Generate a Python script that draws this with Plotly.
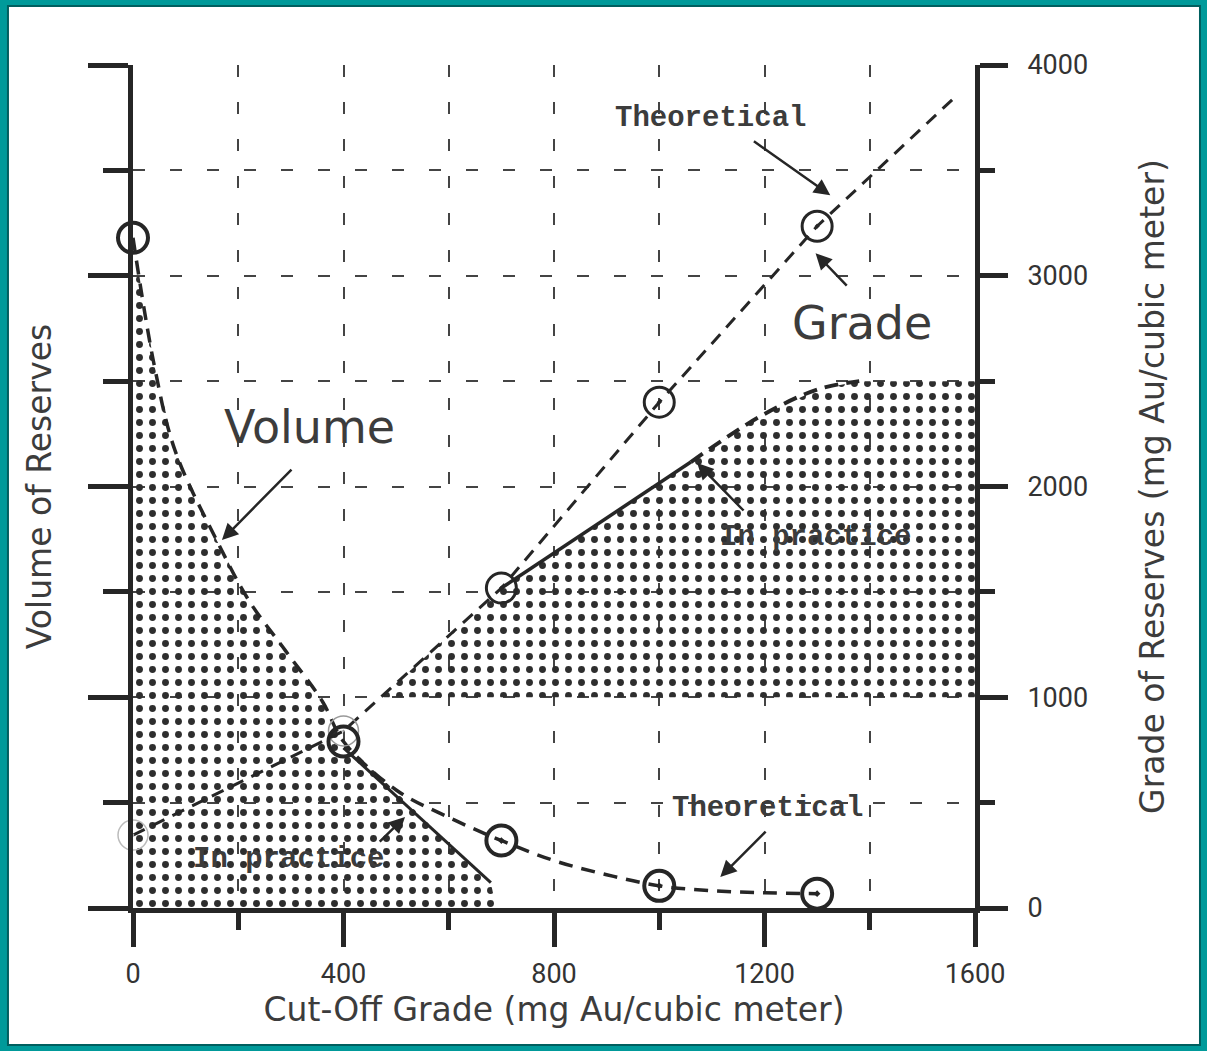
import numpy as np
import plotly.graph_objects as go

# ---------------- data ----------------
# Volume of reserves (plotted on the unlabeled left axis, same 0-4000 span)
vol_theo_x = [0, 40, 80, 160, 220, 290, 360, 400, 500, 600, 700, 800, 900, 1000, 1100, 1200, 1300]
vol_theo_y = [3180, 2580, 2170, 1740, 1460, 1220, 980, 790, 560, 430, 320, 225, 158, 105, 82, 72, 68]
vol_pts_x = [0, 400, 700, 1000, 1300]
vol_pts_y = [3180, 790, 320, 105, 68]
vol_prac_x = [400, 680]
vol_prac_y = [760, 120]

# Grade of reserves (right axis)
grade_theo_x = [0, 400, 700, 1000, 1300, 1560]
grade_theo_y = [346, 840, 1518, 2400, 3235, 3843]
grade_pts_x = [0, 400, 700, 1000, 1300]
grade_pts_y = [346, 840, 1518, 2400, 3235]
grade_prac_x = [700, 1060]
grade_prac_y = [1518, 2116]
grade_prac_ext_x = [1060, 1190, 1300, 1380]
grade_prac_ext_y = [2116, 2330, 2460, 2500]
grade_floor = 1000
grade_cap = 2500

x_ticks = [0, 400, 800, 1200, 1600]
grade_ticks = [0, 1000, 2000, 3000, 4000]

INK = "#262626"
TXT = "#3c3c3c"
MONO = "Liberation Mono, Courier New, monospace"
SANS = "DejaVu Sans, sans-serif"
NUM = "Roboto, sans-serif"

fig = go.Figure()

STIPPLE = dict(shape=".", fgcolor="#2e2e2e", bgcolor="rgba(0,0,0,0)",
               size=13, solidity=0.22, fillmode="replace")

# ---- stippled area under the volume curve ----
n_v = vol_theo_x.index(400) + 1
vfill_x = [0] + vol_theo_x[:n_v] + [vol_prac_x[1], vol_prac_x[1] + 10, 0]
vfill_y = [0] + vol_theo_y[:n_v] + [vol_prac_y[1], 0, 0]
fig.add_trace(go.Scatter(
    x=vfill_x, y=vfill_y, mode="lines", fill="toself", line=dict(width=0),
    fillcolor="rgba(0,0,0,0)", fillpattern=STIPPLE,
    hoverinfo="skip", showlegend=False))

# ---- stippled area under the grade curve ----
x_start = float(np.interp(grade_floor, grade_theo_y, grade_theo_x))
gfill_x = [x_start, grade_prac_x[0]] + grade_prac_x[1:] + grade_prac_ext_x[1:] + [1600, 1600, x_start]
gfill_y = [grade_floor, grade_prac_y[0]] + grade_prac_y[1:] + grade_prac_ext_y[1:] + [grade_cap, grade_floor, grade_floor]
fig.add_trace(go.Scatter(
    x=gfill_x, y=gfill_y, mode="lines", fill="toself", line=dict(width=0),
    fillcolor="rgba(0,0,0,0)", fillpattern=STIPPLE,
    hoverinfo="skip", showlegend=False))

# ---- theoretical volume curve ----
fig.add_trace(go.Scatter(
    x=vol_theo_x, y=vol_theo_y, mode="lines",
    line=dict(color=INK, width=3.5, dash="14px,9px", shape="spline", smoothing=1.0),
    hoverinfo="skip", showlegend=False))
# ---- in-practice volume ----
fig.add_trace(go.Scatter(
    x=vol_prac_x, y=vol_prac_y, mode="lines", line=dict(color=INK, width=3),
    hoverinfo="skip", showlegend=False))

# ---- theoretical grade line ----
fig.add_trace(go.Scatter(
    x=grade_theo_x, y=grade_theo_y, mode="lines",
    line=dict(color=INK, width=3, dash="13px,9px"),
    hoverinfo="skip", showlegend=False))
# ---- in-practice grade ----
fig.add_trace(go.Scatter(
    x=grade_prac_x, y=grade_prac_y, mode="lines", line=dict(color=INK, width=3.5),
    hoverinfo="skip", showlegend=False))
fig.add_trace(go.Scatter(
    x=grade_prac_ext_x, y=grade_prac_ext_y, mode="lines",
    line=dict(color=INK, width=4, dash="14px,8px", shape="spline"),
    hoverinfo="skip", showlegend=False))

# ---- markers ----
fig.add_trace(go.Scatter(
    x=grade_pts_x, y=grade_pts_y, mode="markers", cliponaxis=False,
    marker=dict(symbol="circle-open-dot", size=30,
                color=["#bbbbbb", "#999999", INK, INK, INK],
                line=dict(width=[1.5, 1.5, 3, 3, 3], color=["#bbbbbb", "#999999", INK, INK, INK])),
    hoverinfo="skip", showlegend=False))
fig.add_trace(go.Scatter(
    x=vol_pts_x, y=vol_pts_y, mode="markers", cliponaxis=False,
    marker=dict(symbol=["circle-open", "circle-open", "circle-open-dot", "circle-open-dot", "circle-open-dot"],
                size=30, color=INK, line=dict(width=4, color=INK)),
    hoverinfo="skip", showlegend=False))

# ---- labels and arrows ----
labels = [
    ("Theoretical", 1097, 3748, MONO, 29, "bold"),
    ("Grade", 1386, 2775, SANS, 46, "normal"),
    ("Volume", 335, 2282, SANS, 46, "normal"),
    ("In practice", 1297, 1760, MONO, 29, "bold"),
    ("In practice", 295, 228, MONO, 29, "bold"),
    ("Theoretical", 1205, 474, MONO, 29, "bold"),
]
for txt, lx, ly, fam, sz, wt in labels:
    fig.add_annotation(x=lx, y=ly, xref="x", yref="y", text=txt, showarrow=False,
                       font=dict(family=fam, size=sz, color=TXT, weight=wt))

arrows = [  # (head_x, head_y, tail_x, tail_y)
    (1325, 3382, 1177, 3643),
    (1297, 3107, 1359, 2946),
    (169, 1746, 304, 2087),
    (1072, 2111, 1163, 1879),
    (517, 432, 466, 308),
    (1116, 147, 1205, 370),
]
for hx, hy, tx, ty in arrows:
    fig.add_annotation(x=hx, y=hy, ax=tx, ay=ty, xref="x", yref="y", axref="x", ayref="y",
                       text="", showarrow=True, arrowhead=2, arrowsize=1.3,
                       arrowwidth=2.5, arrowcolor=INK, standoff=0, startstandoff=0)

GRID = dict(showgrid=True, gridcolor="#444444", gridwidth=2, griddash="12px,25px")

fig.update_layout(
    width=1207, height=1051,
    margin=dict(l=133, r=232, t=65, b=143),
    paper_bgcolor="#009a9a", plot_bgcolor="white",
    showlegend=False,
    xaxis=dict(range=[0, 1600], tickvals=x_ticks, ticktext=[str(v) for v in x_ticks],
               ticks="outside", ticklen=34, tickwidth=5, tickcolor=INK,
               showline=True, linewidth=5, linecolor=INK, zeroline=False,
               tickfont=dict(family=NUM, size=27, color="#333333"), ticklabelstandoff=4,
               minor=dict(dtick=200, ticks="outside", ticklen=17, tickwidth=5, tickcolor=INK, **GRID),
               title=dict(text="Cut-Off Grade (mg Au/cubic meter)", standoff=10,
                          font=dict(family=SANS, size=33, color=TXT)),
               **GRID, layer="above traces"),
    yaxis=dict(range=[0, 4000], tickvals=grade_ticks, showticklabels=False,
               ticks="outside", ticklen=40, tickwidth=5, tickcolor=INK,
               showline=True, linewidth=5, linecolor=INK, zeroline=False,
               minor=dict(dtick=500, ticks="outside", ticklen=25, tickwidth=5, tickcolor=INK, **GRID),
               title=dict(text="Volume of Reserves", standoff=28,
                          font=dict(family=SANS, size=33, color=TXT)),
               **GRID),
    yaxis2=dict(range=[0, 4000], overlaying="y", side="right", tickvals=grade_ticks,
                ticks="outside", ticklen=28, tickwidth=5, tickcolor=INK,
                showline=True, linewidth=5, linecolor=INK, zeroline=False, showgrid=False,
                tickfont=dict(family=NUM, size=27, color="#333333"), ticklabelstandoff=14,
                minor=dict(dtick=500, ticks="outside", ticklen=15, tickwidth=5, tickcolor=INK),
                title=dict(text="Grade of Reserves (mg Au/cubic meter)", standoff=55,
                           font=dict(family=SANS, size=33, color=TXT))),
    shapes=[dict(type="rect", xref="paper", yref="paper", layer="below",
                 x0=-0.1485, x1=1.2672, y0=-0.1625, y1=1.070,
                 fillcolor="white", line=dict(color="#005f5f", width=2))],
)
# dummy trace to activate the right axis
fig.add_trace(go.Scatter(x=[0], y=[0], yaxis="y2", mode="markers",
                         marker=dict(opacity=0), hoverinfo="skip", showlegend=False))

fig.write_html("out.html", config={"displayModeBar": False},
               post_script="document.body.style.margin='0';document.body.style.overflow='hidden';")
